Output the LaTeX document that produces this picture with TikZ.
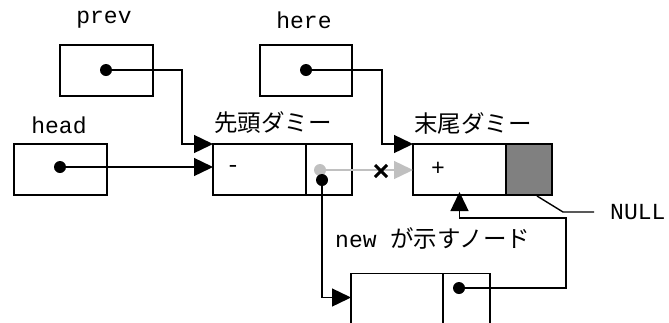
\documentclass[tikz,border=0pt]{standalone}
\usepackage{fontspec}
\newfontfamily\monofnt{Liberation Mono}
\newfontfamily\jpfnt{Noto Sans CJK JP}
\usetikzlibrary{arrows.meta,calc}
\definecolor{cellgray}{HTML}{808080}
\definecolor{lightgr}{HTML}{C0C0C0}
\tikzset{
  cell/.style={draw, line width=1.6pt, rectangle, inner sep=0pt, outer sep=0pt, minimum height=51pt},
  conn/.style={line width=1.4pt},
  tip/.style={-{Triangle[length=19pt,width=18pt]}},
  dotmark/.style={circle, fill=black, inner sep=0pt, minimum size=12pt},
  monolbl/.style={font=\monofnt\fontsize{23}{26}\selectfont, inner sep=0pt},
  jplbl/.style={font=\jpfnt\fontsize{23.5}{27}\selectfont, inner sep=0pt}
}
\begin{document}
\begin{tikzpicture}[x=1pt,y=-1pt]
\useasboundingbox (0,0) rectangle (669,322);
\clip (0,0) rectangle (669,322);
% boxes
\node[cell, minimum width=93pt] (prevbox) at (106.5,70.5) {};
\node[cell, minimum width=92pt] (herebox) at (306,70.5) {};
\node[cell, minimum width=93pt] (headbox) at (60.5,169.5) {};
\node[cell, minimum width=93pt] (hdL) at (259.5,169.5) {};
\node[cell, minimum width=46pt] (hdR) at (329,169.5) {};
\node[cell, minimum width=93pt] (tdL) at (459.5,169.5) {};
\node[cell, minimum width=46pt, fill=cellgray] (tdR) at (529,169.5) {};
\node[cell, minimum width=92pt] (nwL) at (397,299) {};
\node[cell, minimum width=47pt] (nwR) at (466.5,299) {};
% labels
\node[monolbl] (lprev) at (104,20) {prev};
\node[monolbl] (lhere) at (304,20) {here};
\node[monolbl] (lhead) at (59,125) {head};
\node[jplbl, anchor=west] (lhd) at (214,123) {先頭ダミー};
\node[jplbl, anchor=west] (ltd) at (414,123) {末尾ダミー};
\node[anchor=west, inner sep=0pt] (lnew) at (335,238) {\monofnt\fontsize{23}{26}\selectfont new\ \jpfnt\fontsize{23.5}{27}\selectfont が示すノード};
\node[monolbl, anchor=west] (lnull) at (610,212) {NULL};
\node[monolbl] (minus) at (233,169) {-};
\node[monolbl] (plus) at (438,169) {+};
% dots
\node[dotmark] (prevdot) at (106,70) {};
\node[dotmark] (heredot) at (306,70) {};
\node[dotmark] (headdot) at (60,167) {};
\node[dotmark, fill=lightgr] (hdgray) at (320,170) {};
\node[dotmark] (hdblack) at (322,180) {};
\node[dotmark] (nwdot) at (459,288) {};
% bend points
\coordinate (b1) at (182,70);
\coordinate (b2) at (382,70);
\coordinate (b3) at (566,288);
\coordinate (b4) at (566,218);
\coordinate (b5) at (459.5,218);
\coordinate (n1) at (537,196);
\coordinate (n2) at (563,212);
\coordinate (n3) at (594,212);
% connectors
\draw[conn, tip] (prevdot.center) -- (b1) |- (hdL.north west);
\draw[conn, tip] (heredot.center) -- (b2) |- (tdL.north west);
\draw[conn, tip] (headdot.center) -- (headdot -| hdL.west);
\draw[conn, tip, lightgr] (hdgray.center) -- (hdgray -| tdL.west);
\draw[conn, tip] (hdblack.center) |- ($(nwL.west)+(0,-1.5)$);
\draw[conn, tip] (nwdot.center) -- (b3) -- (b4) -- (b5) -- ($(tdL.south)+(0,-3)$);
\draw[conn] (n1) -- (n2) -- (n3);
% cross
\coordinate (xc) at (381,171);
\draw[line width=3pt] ($(xc)+(-6,-6)$) -- ($(xc)+(6,6)$);
\draw[line width=3pt] ($(xc)+(-6,6)$) -- ($(xc)+(6,-6)$);
\end{tikzpicture}
\end{document}
